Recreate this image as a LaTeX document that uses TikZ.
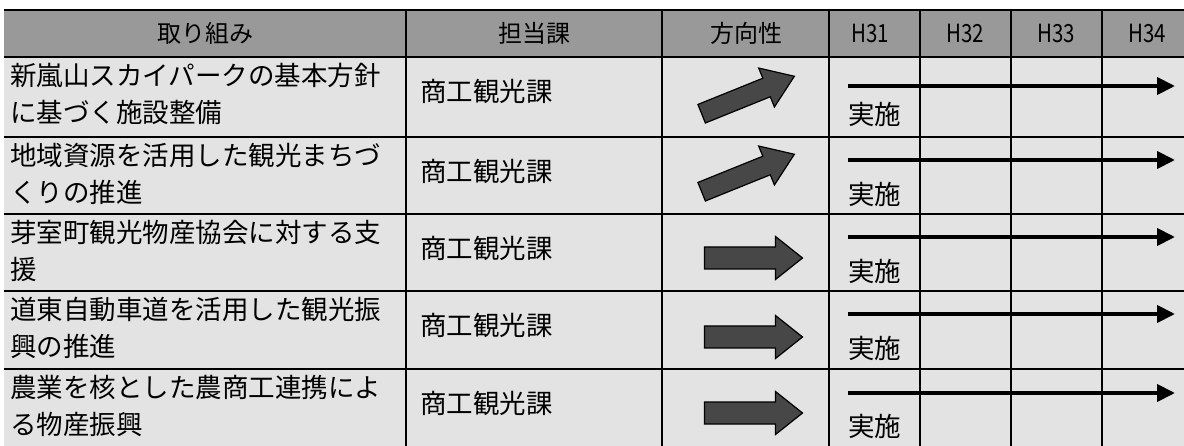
\documentclass[tikz,border=0pt]{standalone}
\usepackage{fontspec}
\newfontfamily\jp{Noto Sans CJK JP}
\usetikzlibrary{arrows.meta}
\begin{document}
\begin{tikzpicture}[x=1pt,y=-1pt,
  gridline/.style={line width=1.4pt},
  hdr/.style={font=\jp\fontsize{24}{24}\selectfont, inner sep=0pt},
  hnum/.style={font=\jp\fontsize{25}{25}\selectfont, inner sep=0pt, xscale=0.82},
  body/.style={font=\jp\fontsize{26.5}{30}\selectfont, inner sep=0pt, anchor=west, text height=0.88em, text depth=0.12em},
  dirarrow/.style={fill=black!72, draw=black, line width=1.2pt, line join=miter},
  plan/.style={line width=4pt, -{Triangle[length=18pt,width=17pt]}},
]
\useasboundingbox (0,0) rectangle (1184,446);
% backgrounds
\fill[black!40] (4,10) rectangle (1184,57);
\fill[black!11] (4,57) rectangle (1184,446);
% grid
\draw[line width=2pt] (4,10) -- (1184,10);
\draw[line width=2.4pt] (4,57) -- (1184,57);
\foreach \y in {137,214,291,369} \draw[gridline] (4,\y) -- (1184,\y);
\foreach \x in {406,662,829,920,1011,1102} \draw[gridline] (\x,10) -- (\x,446);
% header
\node[hdr] (h1) at (205,33.5) {取り組み};
\node[hdr] (h2) at (534,33.5) {担当課};
\node[hdr] (h3) at (746,33.5) {方向性};
\node[hnum] (h31) at (870,33.5) {H31};
\node[hnum] (h32) at (965.5,33.5) {H32};
\node[hnum] (h33) at (1056.5,33.5) {H33};
\node[hnum] (h34) at (1147,33.5) {H34};
% rows
\foreach \t/\la/\lb/\off/\aoff [count=\i] in {
  57/新嵐山スカイパークの基本方針/に基づく施設整備/29/38,
  137/地域資源を活用した観光まちづ/くりの推進/23/40,
  214/芽室町観光物産協会に対する支/援/23/45,
  291/道東自動車道を活用した観光振/興の推進/23/46,
  369/農業を核とした農商工連携によ/る物産振興/24/44}{
  \node[body] (a\i) at (10,\t+25) {\la};
  \node[body] (b\i) at (10,\t+62) {\lb};
  \node[body] (c\i) at (420,\t+41) {商工観光課};
  \node[body] (d\i) at (848,\t+64) {実施};
  \coordinate (ps\i) at (848,\t+\off);
  \coordinate (pe\i) at (1175,\t+\off);
  \draw[plan] (ps\i) -- (pe\i);
}
% direction arrows (diagonal)
\foreach \cy in {95,173}{
  \begin{scope}[shift={(748,\cy)}, rotate=22]
    \draw[dirarrow] (-50,10) -- (20,10) -- (20,21) -- (50,0) -- (20,-21) -- (20,-10) -- (-50,-10) -- cycle;
  \end{scope}
}
% direction arrows (horizontal)
\foreach \cy in {258,337,413}{
  \begin{scope}[shift={(753.5,\cy)}]
    \draw[dirarrow] (-49,11) -- (22,11) -- (22,21.5) -- (49,0) -- (22,-21.5) -- (22,-11) -- (-49,-11) -- cycle;
  \end{scope}
}
\end{tikzpicture}
\end{document}
